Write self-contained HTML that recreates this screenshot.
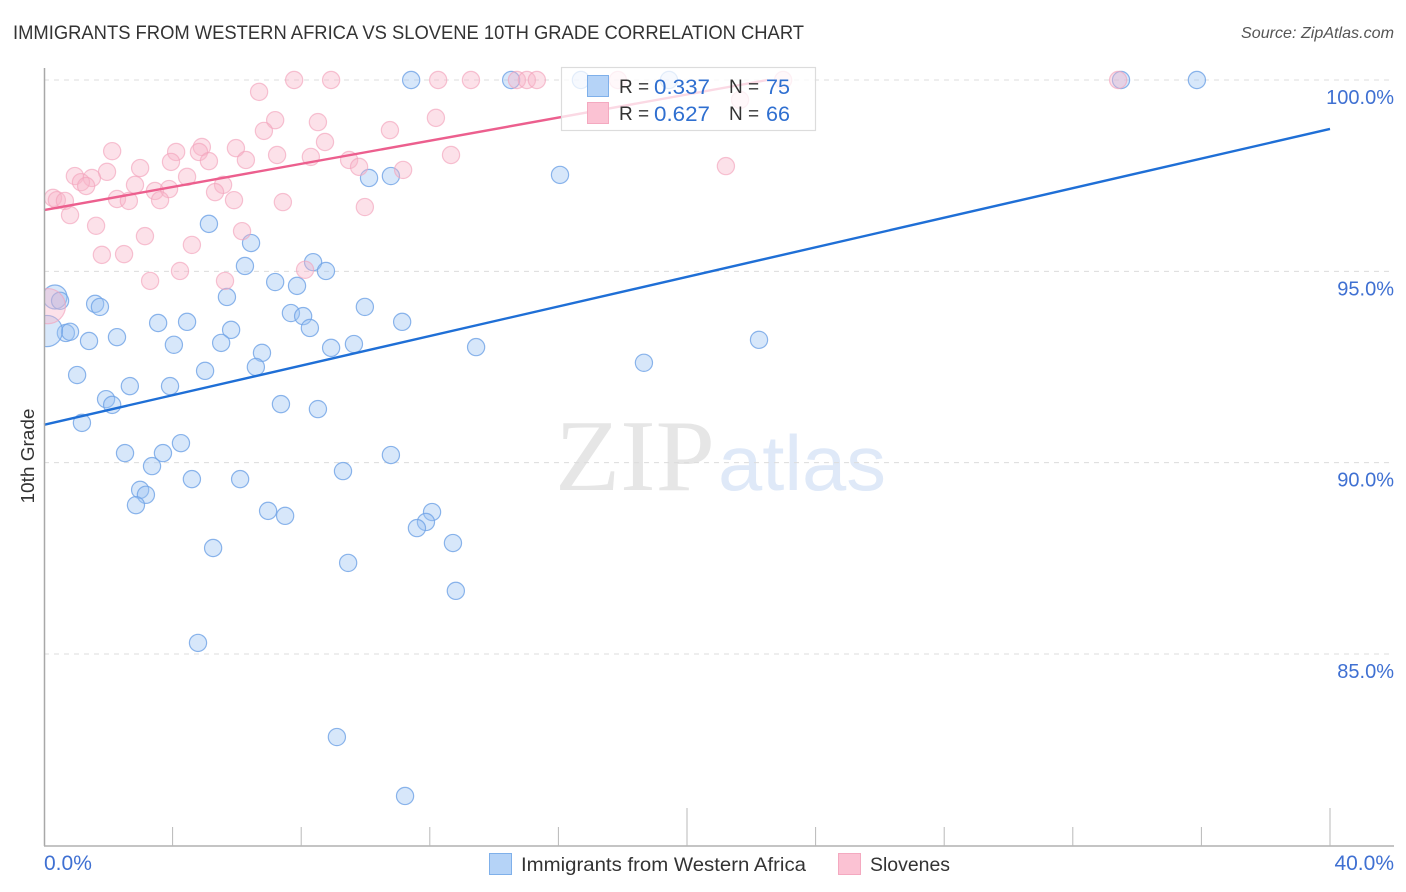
<!DOCTYPE html>
<html lang="en">
<head>
<meta charset="utf-8">
<title>Immigrants from Western Africa vs Slovene 10th Grade Correlation Chart</title>
<style>
html,body{margin:0;padding:0;background:#fff;}
svg{display:block;font-family:"Liberation Sans",Arial,sans-serif;}
</style>
</head>
<body>
<svg id="chart" width="1406" height="892" viewBox="0 0 1406 892" xmlns="http://www.w3.org/2000/svg">
  <defs>
    <clipPath id="plot-clip"><rect x="44" y="60" width="1350" height="786"/></clipPath>
  </defs>
  <rect x="0" y="0" width="1406" height="892" fill="#ffffff"/>
  <text x="13" y="39" font-size="19" fill="#333333" textLength="791" lengthAdjust="spacingAndGlyphs">IMMIGRANTS FROM WESTERN AFRICA VS SLOVENE 10TH GRADE CORRELATION CHART</text>
  <text x="1394" y="38" font-size="16" font-style="italic" fill="#555" text-anchor="end" textLength="153" lengthAdjust="spacingAndGlyphs">Source: ZipAtlas.com</text>

  <g>
    <text x="555" y="490" font-family="'Liberation Serif',serif" font-size="102" fill="#e6e6e6" textLength="160" lengthAdjust="spacingAndGlyphs">ZIP</text>
    <text x="718" y="490" font-family="'Liberation Sans',sans-serif" font-size="78" fill="#dfe9f8" textLength="168" lengthAdjust="spacingAndGlyphs">atlas</text>
  </g>

  <g id="grid"></g>
  <g id="points" clip-path="url(#plot-clip)"></g>
  <g id="trends"></g>
  <g id="axes"></g>

  <g>
    <rect x="561.5" y="67.5" width="254" height="63" fill="#ffffff" fill-opacity="0.76" stroke="#dcdcdc" stroke-width="1.2"/>
    <rect x="587.5" y="75.5" width="21" height="21" fill="#b5d3f7" stroke="#7fb0ea" stroke-width="1"/>
    <rect x="587.5" y="102.5" width="21" height="21" fill="#fbc2d3" stroke="#f4a9c0" stroke-width="1"/>
    <text x="619" y="93" font-size="19" fill="#333">R =</text>
    <text x="654" y="94" font-size="21" fill="#2f6fd0" textLength="56" lengthAdjust="spacingAndGlyphs">0.337</text>
    <text x="729" y="93" font-size="19" fill="#333">N =</text>
    <text x="766" y="94" font-size="21" fill="#2f6fd0" textLength="24" lengthAdjust="spacingAndGlyphs">75</text>
    <text x="619" y="120" font-size="19" fill="#333">R =</text>
    <text x="654" y="121" font-size="21" fill="#2f6fd0" textLength="56" lengthAdjust="spacingAndGlyphs">0.627</text>
    <text x="729" y="120" font-size="19" fill="#333">N =</text>
    <text x="766" y="121" font-size="21" fill="#2f6fd0" textLength="24" lengthAdjust="spacingAndGlyphs">66</text>
  </g>

  <g>
    <rect x="489.5" y="853.5" width="22" height="21" fill="#b5d3f7" stroke="#7fb0ea" stroke-width="1"/>
    <text x="521" y="871" font-size="19.5" fill="#333" textLength="285" lengthAdjust="spacingAndGlyphs">Immigrants from Western Africa</text>
    <rect x="838.5" y="853.5" width="22" height="21" fill="#fbc2d3" stroke="#f4a9c0" stroke-width="1"/>
    <text x="870" y="871" font-size="19.5" fill="#333" textLength="80" lengthAdjust="spacingAndGlyphs">Slovenes</text>
  </g>

  <text transform="translate(34 456) rotate(-90)" font-size="18.5" fill="#333" text-anchor="middle" textLength="95" lengthAdjust="spacingAndGlyphs">10th Grade</text>
</svg>

<script>
// Values: [x %, y %, optional sample weight]
const bluePoints = [
[11.42,100],[14.53,100],[16.70,100],[19.44,100],[33.50,100],[35.86,100],
[10.11,97.44],[10.79,97.49],[16.05,97.52],[5.13,96.24],[6.44,95.74],[6.25,95.14],
[8.37,95.24],[8.77,95.01],[7.19,94.72],[7.87,94.62],[5.69,94.33],[0.34,94.33,1.9],
[0.50,94.23],[1.59,94.15],[1.74,94.07],[9.98,94.07],[7.68,93.91],[8.06,93.83],
[3.55,93.65],[4.45,93.68],[11.14,93.68],[5.82,93.47],[8.27,93.52],[0.68,93.39],
[0.81,93.42],[0.09,93.44,3.16],[1.40,93.18],[2.27,93.28],[4.04,93.08],[5.51,93.13],
[8.93,93.00],[9.64,93.10],[13.44,93.02],[22.24,93.21],[6.78,92.87],[18.66,92.61],
[6.59,92.50],[5.01,92.40],[1.03,92.29],[2.67,92.00],[3.92,92.00],[1.93,91.66],
[2.12,91.51],[7.37,91.53],[8.52,91.40],[1.18,91.04],[4.26,90.51],[2.52,90.25],
[3.70,90.25],[10.79,90.20],[3.36,89.91],[9.30,89.78],[4.60,89.57],[6.10,89.57],
[2.99,89.29],[3.17,89.16],[2.86,88.89],[6.97,88.74],[7.50,88.61],[12.07,88.71],
[11.88,88.45],[11.60,88.29],[5.26,87.77],[12.72,87.90],[9.46,87.38],[12.81,86.65],
[4.79,85.29],[9.11,82.83],[11.23,81.29]
];
const pinkPoints = [
[7.78,100],[8.93,100],[12.26,100],[13.28,100],[14.71,100],[15.02,100],[15.33,100],
[17.85,100],[22.99,100],[33.41,100],[6.69,99.69],[21.65,99.48],[7.19,98.95],[6.84,98.67],
[8.52,98.90],[8.74,98.38],[10.76,98.69],[12.19,99.01],[2.12,98.14],[4.11,98.12],
[3.95,97.86],[4.91,98.25],[4.82,98.12],[5.13,97.88],[5.97,98.22],[6.28,97.91],
[7.25,98.04],[8.30,97.99],[9.49,97.91],[9.80,97.73],[12.66,98.04],[11.17,97.65],
[21.21,97.75],[2.99,97.70],[1.96,97.60],[0.96,97.49],[1.49,97.44],[1.15,97.33],
[1.31,97.23],[4.45,97.47],[2.83,97.26],[5.57,97.26],[3.45,97.10],[3.89,97.15],
[5.32,97.07],[2.27,96.89],[2.64,96.84],[3.61,96.86],[5.91,96.86],[7.43,96.81],
[0.28,96.92],[0.40,96.86],[0.65,96.84],[0.81,96.47],[9.98,96.68],[1.62,96.19],
[3.14,95.92],[6.16,96.05],[4.60,95.69],[1.80,95.43],[2.49,95.45],[4.23,95.01],
[8.12,95.04],[5.63,94.75],[3.30,94.75],[0.12,94.09,4]
];
const blueTrend = [[0,90.99],[40,98.72]];
const pinkTrend = [[0,96.6],[22.5,100]];
const yTicks = [100,95,90,85];
const yTickLabels = ["100.0%","95.0%","90.0%","85.0%"];
const xTicks = [4,8,12,16,20,24,28,32,36,40];
const xMajorTicks = [20,40];
const xEndLabels = ["0.0%","40.0%"];
const xEndValues = [0,40];

const NS = "http://www.w3.org/2000/svg";
const xScale = v => 44 + v * (1330 - 44) / 40;
const yScale = v => 80 + (100 - v) * (654 - 80) / 15;
const radius = w => 9 * Math.sqrt(w || 1);

function make(tag, attrs, parent, text) {
  const el = document.createElementNS(NS, tag);
  for (const k in attrs) el.setAttribute(k, attrs[k]);
  if (text !== undefined) el.textContent = text;
  parent.appendChild(el);
  return el;
}

const grid = document.getElementById("grid");
const axes = document.getElementById("axes");
const pts = document.getElementById("points");
const trends = document.getElementById("trends");

yTicks.forEach((t, i) => {
  const line = make("line", {x1:44, x2:1394, y1:yScale(t), y2:yScale(t), stroke:"#dcdcdc", "stroke-width":1, "stroke-dasharray":"5 5"}, grid);
  
  
  const label = make("text", {x:1394, y:yScale(t) + 24, "font-size":20, fill:"#3f70d2", "text-anchor":"end"}, axes, yTickLabels[i]);
  
  
});

const yAxis = make("line", {x1:44.5, x2:44.5, y1:68, y2:846, stroke:"#a8a8a8", "stroke-width":1.5}, axes);


const xAxis = make("line", {x1:44, x2:1394, y1:846, y2:846, stroke:"#b0b0b0", "stroke-width":1.5}, axes);



xTicks.forEach(t => {
  const isMajor = xMajorTicks.indexOf(t) >= 0;
  const tick = make("line", {x1:xScale(t), x2:xScale(t), y1:isMajor ? 808 : 827, y2:846, stroke:"#b8b8b8", "stroke-width":1}, axes);
  
  
});

xEndValues.forEach((v, i) => {
  const label = make("text", {x:i === 0 ? xScale(v) : 1394, y:870, "font-size":21, fill:"#3f70d2", "text-anchor":i === 0 ? "start" : "end"}, axes, xEndLabels[i]);
  
  
});

function drawPoints(data, fill, stroke, strokeOpacity, name) {
  data.forEach(d => {
    const c = make("circle", {cx:xScale(d[0]), cy:yScale(d[1]), r:radius(d[2]) - 0.4, fill:fill, "fill-opacity":0.4, stroke:stroke, "stroke-opacity":strokeOpacity, "stroke-width":1.2}, pts);
    
    
  });
}
drawPoints(bluePoints, "#9cc3f3", "#6fa3e6", 0.8, "point-western-africa");
drawPoints(pinkPoints, "#f8b4c8", "#f2a3bb", 0.65, "point-slovenes");

function drawTrend(t, color, name) {
  const line = make("line", {x1:xScale(t[0][0]), y1:yScale(t[0][1]), x2:xScale(t[1][0]), y2:yScale(t[1][1]), stroke:color, "stroke-width":2.4}, trends);
  
  
}
drawTrend(blueTrend, "#1f6fd6", "trend-line-western-africa");
drawTrend(pinkTrend, "#ec5f8e", "trend-line-slovenes");
</script>
</body>
</html>
